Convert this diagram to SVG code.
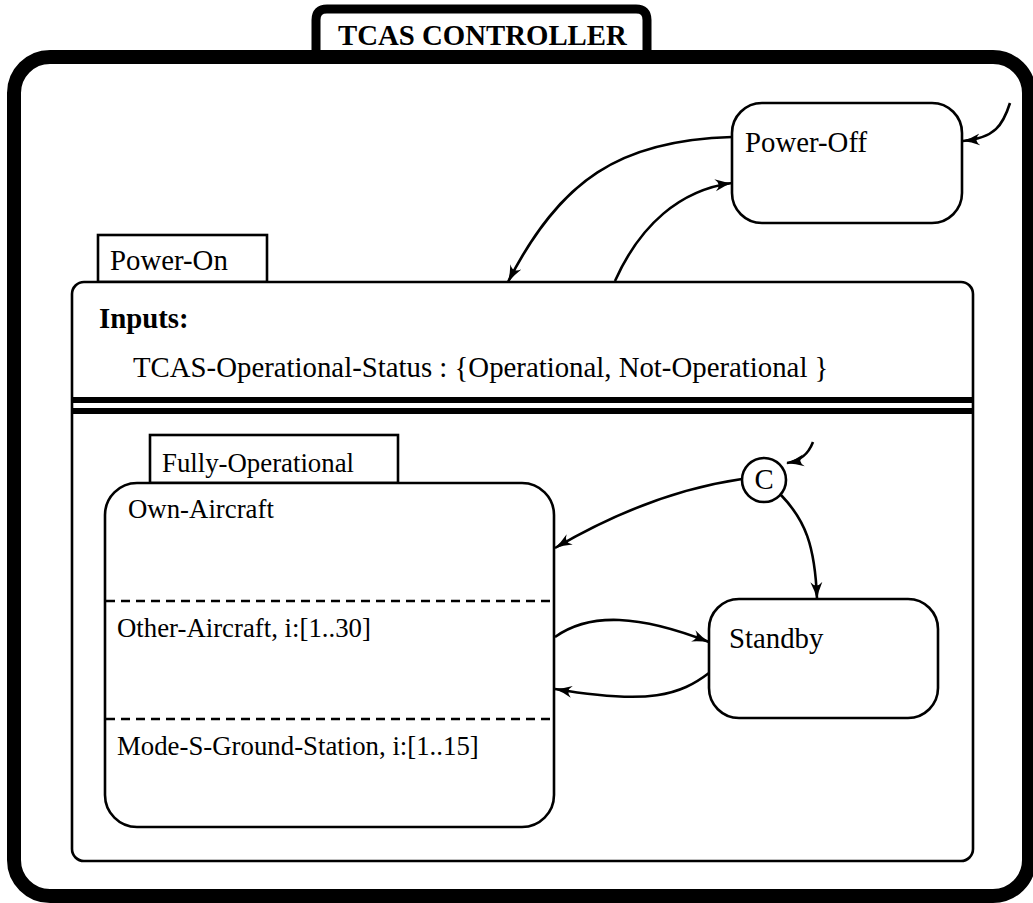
<svg xmlns="http://www.w3.org/2000/svg" width="1033" height="903" viewBox="0 0 1033 903">
<defs>
<style>
.t{font-family:"Liberation Serif","Times New Roman",serif;font-size:28.8px;fill:#000}
.s{font-size:26.8px}
.b{font-weight:bold}
.box{fill:#fff;stroke:#000;stroke-width:2.6}
.tab{fill:#fff;stroke:#000;stroke-width:2.6}
.dash{stroke:#000;stroke-width:2.6;stroke-dasharray:9 6;fill:none}
.c{fill:none;stroke:#000;stroke-width:2.6}
</style>
<marker id="ah" viewBox="0 0 18 13" refX="17" refY="6.5" markerWidth="18" markerHeight="13" markerUnits="userSpaceOnUse" orient="auto">
<path d="M0,0.5 Q8,4.5 18,6.5 Q8,8.5 0,12.5 Q7,6.5 0,0.5 Z" fill="#000"/>
</marker>
</defs>
<rect width="1033" height="903" fill="#fff"/>
<g id="tcas-controller">
<path d="M316,57 V20 Q316,9 327,9 H636 Q647,9 647,20 V57" fill="#fff" stroke="#000" stroke-width="9"/>
<rect x="14" y="57" width="1015" height="839" rx="36" fill="none" stroke="#000" stroke-width="14"/>
<text class="t b" x="338" y="45">TCAS CONTROLLER</text>
</g>
<g id="power-off">
<rect class="box" x="732" y="103" width="230" height="120" rx="30"/>
<text class="t" x="745" y="152">Power-Off</text>
</g>
<g id="power-on">
<rect class="tab" x="98" y="235" width="169" height="47"/>
<rect class="box" x="72" y="282" width="901" height="579" rx="12"/>
<text class="t" x="110" y="270">Power-On</text>
<text class="t b" x="99" y="328">Inputs:</text>
<text class="t" x="133" y="377">TCAS-Operational-Status : {Operational, Not-Operational }</text>
<line x1="72" y1="400" x2="973" y2="400" stroke="#000" stroke-width="6"/>
<line x1="72" y1="411" x2="973" y2="411" stroke="#000" stroke-width="6"/>
</g>
<g id="fully-operational">
<rect class="tab" x="150" y="435" width="248" height="48"/>
<rect class="box" x="105" y="483" width="449" height="344" rx="32"/>
<text class="t s" x="162" y="472">Fully-Operational</text>
<text class="t s" x="128" y="518">Own-Aircraft</text>
<line class="dash" x1="106" y1="601" x2="553" y2="601"/>
<text class="t s" x="117" y="637">Other-Aircraft, i:[1..30]</text>
<line class="dash" x1="106" y1="719" x2="553" y2="719"/>
<text class="t s" x="117" y="755">Mode-S-Ground-Station, i:[1..15]</text>
</g>
<g id="standby">
<rect class="box" x="709" y="599" width="229" height="119" rx="30"/>
<text class="t" x="729" y="648" font-size="28.3">Standby</text>
</g>
<g id="condition-c">
<circle cx="764" cy="480" r="22" fill="#fff" stroke="#000" stroke-width="2.6"/>
<text class="t" x="764" y="489" text-anchor="middle" font-size="27">C</text>
</g>
<g id="connectors">
<path class="c" marker-end="url(#ah)" d="M1010,103 C1003,125 995,138 963,141"/>
<path class="c" marker-end="url(#ah)" d="M732,137 C620,140 560,180 508,282"/>
<path class="c" marker-end="url(#ah)" d="M615,281 C640,225 680,190 732,183"/>
<path class="c" marker-end="url(#ah)" d="M813,442 C808,455 800,461 787,463"/>
<path class="c" marker-end="url(#ah)" d="M742,479 C680,488 620,510 555,548"/>
<path class="c" marker-end="url(#ah)" d="M781,495 C805,520 815,545 817,599"/>
<path class="c" marker-end="url(#ah)" d="M555,637 C590,612 640,615 709,642"/>
<path class="c" marker-end="url(#ah)" d="M709,673 C680,695 650,705 555,689"/>
</g>
</svg>
